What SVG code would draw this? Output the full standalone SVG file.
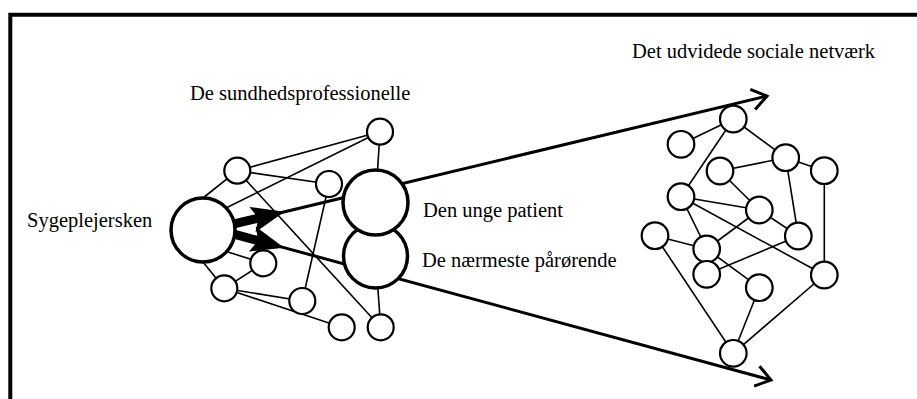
<svg xmlns="http://www.w3.org/2000/svg" width="917" height="399" viewBox="0 0 917 399">
<style>
.t{font-family:"Liberation Serif","Times New Roman",serif;font-size:20.5px;fill:#000}
.e{stroke:#000;stroke-width:1.6;fill:none}
.big{stroke:#000;stroke-width:3.5;fill:#fff}
.s{stroke:#000;stroke-width:2.2;fill:#fff}
.main{stroke:#000;stroke-width:3;fill:none}
</style>
<defs>
<marker id="open" markerUnits="userSpaceOnUse" markerWidth="40" markerHeight="40" viewBox="-20 -20 40 40" refX="0" refY="0" orient="auto">
<path d="M-14.7,-10.3 L0,0 L-14.7,10.3" fill="none" stroke="#000" stroke-width="3"/>
</marker>
<polygon id="thick" points="0,-4.5 24,-4.5 20,-13 53,0 20,13 24,4.5 0,4.5" fill="#000"/>
</defs>
<rect width="917" height="399" fill="#fff"/>
<path d="M10.3,402 V14.7 H920" fill="none" stroke="#000" stroke-width="4"/>

<g id="connectors">
<line class="main" x1="232" y1="224.4" x2="767" y2="96" marker-end="url(#open)"/>
<line class="main" x1="232" y1="233.5" x2="771" y2="380" marker-end="url(#open)"/>
<use href="#thick" transform="translate(233,224.2) rotate(-13.5)"/>
<use href="#thick" transform="translate(233,233.8) rotate(15.2)"/>
<!-- left cluster -->
<line class="e" x1="237.3" y1="170.7" x2="380" y2="131.7"/>
<line class="e" x1="226" y1="208" x2="380" y2="131.7"/>
<line class="e" x1="203" y1="198" x2="237.3" y2="170.7"/>
<line class="e" x1="237.3" y1="170.7" x2="329" y2="184"/>
<line class="e" x1="237.3" y1="170.7" x2="380.7" y2="327.3"/>
<line class="e" x1="329" y1="184" x2="302.3" y2="301"/>
<line class="e" x1="380" y1="131.7" x2="375.5" y2="202.5"/>
<line class="e" x1="228" y1="252" x2="263.3" y2="263.3"/>
<line class="e" x1="203" y1="262" x2="224.3" y2="288.3"/>
<line class="e" x1="263.3" y1="263.3" x2="224.3" y2="288.3"/>
<line class="e" x1="224.3" y1="288.3" x2="302.3" y2="301"/>
<line class="e" x1="224.3" y1="288.3" x2="341.7" y2="327.3"/>
<line class="e" x1="375.5" y1="256" x2="380.7" y2="327.3"/>
<!-- right cluster -->
<line class="e" x1="681" y1="144.3" x2="733.3" y2="119"/>
<line class="e" x1="733.3" y1="119" x2="785.7" y2="157.7"/>
<line class="e" x1="733.3" y1="119" x2="681" y2="196.7"/>
<line class="e" x1="720" y1="171" x2="785.7" y2="157.7"/>
<line class="e" x1="785.7" y1="157.7" x2="824.3" y2="170.7"/>
<line class="e" x1="785.7" y1="157.7" x2="798.3" y2="236"/>
<line class="e" x1="720" y1="171" x2="759.3" y2="210"/>
<line class="e" x1="681" y1="196.7" x2="759.3" y2="210"/>
<line class="e" x1="681" y1="196.7" x2="706.7" y2="249"/>
<line class="e" x1="681" y1="196.7" x2="824.3" y2="275"/>
<line class="e" x1="759.3" y1="210" x2="798.3" y2="236"/>
<line class="e" x1="759.3" y1="210" x2="706.7" y2="249"/>
<line class="e" x1="824.3" y1="170.7" x2="824.3" y2="275"/>
<line class="e" x1="655" y1="235.7" x2="706.7" y2="249"/>
<line class="e" x1="655" y1="235.7" x2="733.3" y2="353.3"/>
<line class="e" x1="798.3" y1="236" x2="706.7" y2="274.3"/>
<line class="e" x1="706.7" y1="249" x2="759.3" y2="287.7"/>
<line class="e" x1="759.3" y1="287.7" x2="733.3" y2="353.3"/>
<line class="e" x1="824.3" y1="275" x2="733.3" y2="353.3"/>
</g>

<g id="sygeplejersken"><circle class="big" cx="203" cy="230" r="32"/><text class="t" x="27" y="227">Sygeplejersken</text></g>
<g id="paaroerende"><circle class="big" cx="375.5" cy="256" r="32"/><text class="t" x="422" y="266.7">De nærmeste pårørende</text></g>
<g id="patient"><circle class="big" cx="375.5" cy="202.5" r="32.5"/><text class="t" x="423" y="216.7">Den unge patient</text></g>
<g id="sundhedsprofessionelle">
<text class="t" x="190" y="100">De sundhedsprofessionelle</text>
<circle class="s" cx="380" cy="131.7" r="13"/>
<circle class="s" cx="237.3" cy="170.7" r="13"/>
<circle class="s" cx="329" cy="184" r="13"/>
<circle class="s" cx="263.3" cy="263.3" r="13"/>
<circle class="s" cx="224.3" cy="288.3" r="13"/>
<circle class="s" cx="302.3" cy="301" r="13"/>
<circle class="s" cx="341.7" cy="327.3" r="13"/>
<circle class="s" cx="380.7" cy="327.3" r="13"/>
</g>
<g id="netvaerk">
<text class="t" x="632" y="58.3">Det udvidede sociale netværk</text>
<circle class="s" cx="733.3" cy="119" r="13.3"/>
<circle class="s" cx="681" cy="144.3" r="13.3"/>
<circle class="s" cx="785.7" cy="157.7" r="13.3"/>
<circle class="s" cx="720" cy="171" r="13.3"/>
<circle class="s" cx="824.3" cy="170.7" r="13.3"/>
<circle class="s" cx="681" cy="196.7" r="13.3"/>
<circle class="s" cx="759.3" cy="210" r="13.3"/>
<circle class="s" cx="655" cy="235.7" r="13.3"/>
<circle class="s" cx="798.3" cy="236" r="13.3"/>
<circle class="s" cx="706.7" cy="249" r="13.3"/>
<circle class="s" cx="706.7" cy="274.3" r="13.3"/>
<circle class="s" cx="759.3" cy="287.7" r="13.3"/>
<circle class="s" cx="824.3" cy="275" r="13.3"/>
<circle class="s" cx="733.3" cy="353.3" r="13.3"/>
</g>
</svg>
